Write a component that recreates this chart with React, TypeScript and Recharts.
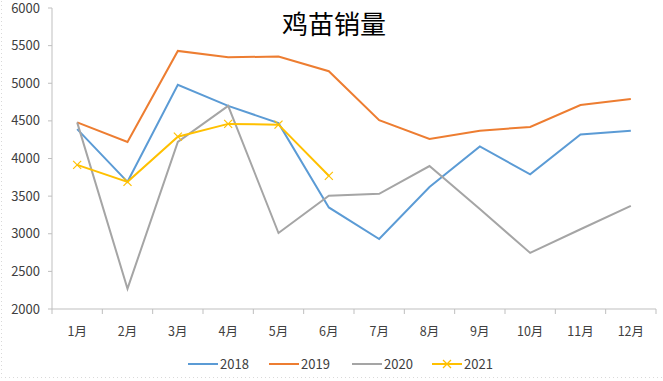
import React from "react";
import { LineChart, Line, XAxis, YAxis } from "recharts";

const months = ["1月", "2月", "3月", "4月", "5月", "6月", "7月", "8月", "9月", "10月", "11月", "12月"];
const s2018 = [4390, 3690, 4980, 4700, 4470, 3350, 2930, 3620, 4160, 3790, 4320, 4370];
const s2019 = [4480, 4220, 5430, 5345, 5355, 5160, 4510, 4260, 4370, 4420, 4710, 4790];
const s2020 = [4480, 2270, 4220, 4700, 3010, 3505, 3530, 3900, 3330, 2745, 3060, 3370];
const s2021 = [3915, 3690, 4290, 4460, 4450, 3770];
const yTicks = [2000, 2500, 3000, 3500, 4000, 4500, 5000, 5500, 6000];

const series = [
  { key: "2018", color: "#5B9BD5" },
  { key: "2019", color: "#ED7D31" },
  { key: "2020", color: "#A5A5A5" },
  { key: "2021", color: "#FFC000" },
];

const data = months.map((m, i) => ({
  month: m,
  "2018": s2018[i],
  "2019": s2019[i],
  "2020": s2020[i],
  "2021": i < s2021.length ? s2021[i] : null,
}));

const FONT = "'Noto Sans CJK SC', 'Liberation Sans', sans-serif";
const TEXT = "#404040";
const AXIS = "#BFBFBF";

const W = 663;
const H = 381;
const LEFT = 52;
const RIGHT = 7;
const band = (W - LEFT - RIGHT) / months.length;

const MonthTick = (props: any) => {
  const { x, y, payload, index } = props;
  const left = x - band / 2;
  return (
    <g>
      <line x1={left} y1={y - 8} x2={left} y2={y - 3} stroke={AXIS} />
      {index === months.length - 1 && (
        <line x1={left + band} y1={y - 8} x2={left + band} y2={y - 3} stroke={AXIS} />
      )}
      <text x={x} y={y + 19} textAnchor="middle" fill={TEXT} fontSize={12.5} fontFamily={FONT}>
        {payload.value}
      </text>
    </g>
  );
};

const Cross = (props: any) => {
  const { cx, cy, value } = props;
  if (value == null || cx == null) return <g />;
  const r = 4;
  return (
    <g stroke="#FFC000" strokeWidth={1.2}>
      <line x1={cx - r} y1={cy - r} x2={cx + r} y2={cy + r} />
      <line x1={cx - r} y1={cy + r} x2={cx + r} y2={cy - r} />
    </g>
  );
};

const LegendRow = () => {
  const xs = [188, 269, 352, 432];
  return (
    <g>
      {series.map((s, i) => (
        <g key={s.key}>
          <line x1={xs[i]} y1={364} x2={xs[i] + 30} y2={364} stroke={s.color} strokeWidth={2} />
          {s.key === "2021" && (
            <g stroke={s.color} strokeWidth={1.2}>
              <line x1={xs[i] + 11} y1={360} x2={xs[i] + 19} y2={368} />
              <line x1={xs[i] + 11} y1={368} x2={xs[i] + 19} y2={360} />
            </g>
          )}
          <text x={xs[i] + 32} y={369} fill={TEXT} fontSize={13} fontFamily={FONT}>
            {s.key}
          </text>
        </g>
      ))}
    </g>
  );
};

export default function App() {
  return (
    <div style={{ position: "absolute", left: 0, top: 0, width: W, height: H, background: "#fff" }}>
      <svg width={W} height={H} style={{ position: "absolute", left: 0, top: 0 }}>
        <rect x={1.5} y={-5} width={W + 10} height={382.5} fill="none" stroke="#D9D9D9" strokeDasharray="1 3" />
        <text x={334} y={34} textAnchor="middle" fontSize={26} fontFamily="'Noto Sans CJK SC', sans-serif" fill="#000">
          鸡苗销量
        </text>
        <LegendRow />
      </svg>
      <div style={{ position: "absolute", left: 0, top: 0 }}>
        <LineChart width={W} height={H} data={data} margin={{ top: 8, right: RIGHT, bottom: 32, left: 0 }}>
          <XAxis
            dataKey="month"
            stroke={AXIS}
            tickLine={false}
            tick={<MonthTick />}
            interval={0}
            height={40}
            padding={{ left: band / 2, right: band / 2 }}
          />
          <YAxis
            width={LEFT}
            domain={[2000, 6000]}
            ticks={yTicks}
            stroke={AXIS}
            tickSize={4}
            tickMargin={8}
            tick={{ fill: TEXT, fontSize: 13, fontFamily: FONT }}
          />
          {series.map((s) => (
            <Line
              key={s.key}
              dataKey={s.key}
              stroke={s.color}
              strokeWidth={2}
              dot={s.key === "2021" ? <Cross /> : false}
              activeDot={false}
              isAnimationActive={false}
              type="linear"
            />
          ))}
        </LineChart>
      </div>
    </div>
  );
}
